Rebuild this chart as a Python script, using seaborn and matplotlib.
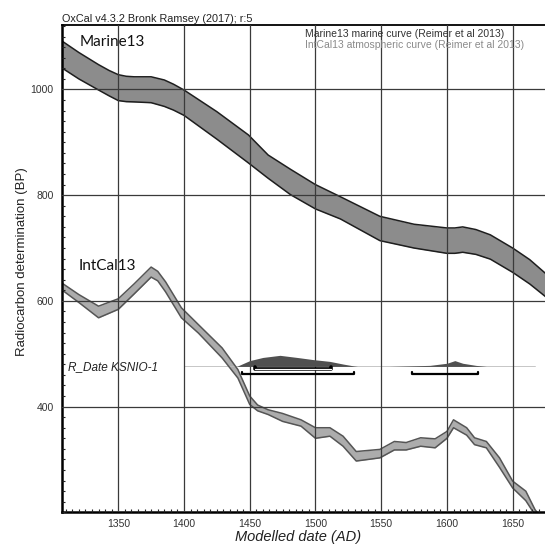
import matplotlib
matplotlib.use("Agg")
import matplotlib.pyplot as plt
from matplotlib.ticker import MultipleLocator
import seaborn as sns

# Marine13 band (year AD, upper / lower BP)
marine_years = [1307, 1320, 1335, 1343, 1350, 1356, 1362, 1375, 1385, 1392, 1400, 1425, 1449,
                1464, 1481, 1500, 1519, 1549, 1575, 1600, 1606, 1612, 1622, 1633, 1650,
                1663, 1675, 1690]
marine_top = [1092, 1070, 1047, 1036, 1028, 1025, 1024, 1024, 1018, 1010, 999, 958, 914,
              876, 849, 820, 797, 760, 745, 738, 738, 740, 735, 725, 700,
              678, 652, 615]
marine_bot = [1041, 1020, 999, 988, 979, 977, 976.5, 975, 968, 961, 951, 906, 861,
              832, 801, 774, 755, 714, 700, 690, 690, 692, 688, 679, 654,
              632, 608, 572]

# IntCal13 band
intcal_years = [1307, 1320, 1335, 1350, 1362, 1375, 1380, 1386, 1398, 1411, 1429, 1441,
                1450, 1456, 1464, 1475, 1489, 1500, 1511, 1521, 1531, 1549, 1560, 1569,
                1580, 1591, 1600, 1605, 1615, 1621, 1630, 1640, 1650, 1660, 1667, 1675]
intcal_top = [634, 612, 590, 604, 632, 664, 656, 636, 587, 555, 511, 470,
              420, 403, 394, 387, 375, 360, 360, 344, 315, 319, 334, 332,
              341, 339, 353, 375, 360, 341, 334, 303, 259, 240, 205, 180]
intcal_bot = [621, 597, 568, 584, 613, 645, 638, 617, 568, 539, 492, 454,
              404, 392, 385, 372, 363, 340, 344, 325, 297, 303, 318, 318,
              325, 322, 340, 360, 346, 328, 322, 285, 246, 222, 195, 168]

# R_Date KSNIO-1 probability distribution (height in BP units above baseline)
rdate_base = 476
dist1_years = [1440, 1450, 1460, 1473, 1486, 1498, 1511, 1521, 1529, 1532]
dist1_h = [0, 11, 17, 21, 17, 13, 9.5, 4.5, 1, 0]
dist2_years = [1556, 1587, 1600, 1606, 1612, 1622, 1630]
dist2_h = [0, 2, 6, 11, 6, 2, 0]
range68 = [(1454, 1512)]
range95 = [(1444, 1529), (1573.5, 1624)]

x_ticks = [1350, 1400, 1450, 1500, 1550, 1600, 1650]
y_ticks = [400, 600, 800, 1000]

sns.set_style("white")
plt.rcParams['font.family'] = ['Liberation Sans', 'DejaVu Sans']

fig = plt.figure(figsize=(5.45, 5.46), dpi=100)
ax = fig.add_axes([62 / 545, 33.7 / 546, 516.4 / 545, 487.3 / 546])

# bands
ax.fill_between(marine_years, marine_bot, marine_top, color='#8c8c8c', lw=0, zorder=1)
sns.lineplot(x=marine_years, y=marine_top, ax=ax, color='#1e1e1e', lw=1.1, zorder=1.5)
sns.lineplot(x=marine_years, y=marine_bot, ax=ax, color='#1e1e1e', lw=1.1, zorder=1.5)

ax.fill_between(intcal_years, intcal_bot, intcal_top, color='#acacac', lw=0, zorder=1)
sns.lineplot(x=intcal_years, y=intcal_top, ax=ax, color='#555555', lw=1.1, zorder=1.5)
sns.lineplot(x=intcal_years, y=intcal_bot, ax=ax, color='#555555', lw=1.1, zorder=1.5)

# R_Date
ax.plot([1400, 1667], [rdate_base, rdate_base], color='#bdbdbd', lw=0.6, zorder=1)
ax.fill_between(dist1_years, rdate_base, [rdate_base + h for h in dist1_h],
                color='#505050', lw=0, zorder=3)
ax.fill_between(dist2_years, rdate_base, [rdate_base + h for h in dist2_h],
                color='#505050', lw=0, zorder=3)
for a, b in range68:
    ax.plot([a, a, b, b], [475, 471, 471, 475], color='black', lw=2.6, zorder=3)
    ax.plot([a, b], [471, 471], color='white', lw=0.9, zorder=3.1)
for a, b in range95:
    ax.plot([a, a, b, b], [466, 462, 462, 466], color='black', lw=1.6, zorder=3)
ax.text(1311.5, 475.4, 'R_Date KSNIO-1', fontsize=8.5, style='italic',
        color='#222222', va='center', ha='left', zorder=2)

# curve labels
ax.text(1320.9, 1089.8, 'Marine13', fontsize=11, family='Lato', va='center',
        ha='left', color='#111111', zorder=2)
ax.text(1320.1, 665.4, 'IntCal13', fontsize=11, family='Lato', va='center',
        ha='left', color='#111111', zorder=2)

ax.set_xlim(1307.2, 1700)
ax.set_ylim(200, 1122)
ax.set_xticks(x_ticks)
ax.set_yticks(y_ticks)
ax.xaxis.set_minor_locator(MultipleLocator(5))
ax.yaxis.set_minor_locator(MultipleLocator(20))
ax.tick_params(which='both', bottom=True, left=True)
ax.tick_params(which='major', length=0, labelsize=7.5, labelcolor='#333333')
ax.tick_params(axis='x', which='major', pad=5)
ax.tick_params(axis='y', which='major', pad=6)
ax.tick_params(which='minor', direction='in', length=2.5, width=0.8, color='#222222')
ax.grid(True, which='major', color='#3a3a3a', lw=0.9)
ax.set_axisbelow(False)
for side in ['left', 'bottom']:
    ax.spines[side].set_linewidth(1.8)
    ax.spines[side].set_color('black')
ax.spines['top'].set_linewidth(1.3)
ax.spines['top'].set_color('black')
ax.set_xlabel('')
ax.set_ylabel('')

fig.text(62 / 545, 1 - 19 / 546, 'OxCal v4.3.2 Bronk Ramsey (2017); r:5',
         fontsize=7.8, va='center', ha='left', color='#222222')
fig.text(305 / 545, 1 - 34.3 / 546, 'Marine13 marine curve (Reimer et al 2013)',
         fontsize=7.5, va='center', ha='left', color='#333333')
fig.text(305 / 545, 1 - 45 / 546, 'IntCal13 atmospheric curve (Reimer et al 2013)',
         fontsize=7.5, va='center', ha='left', color='#8a8a8a')
fig.text(21.7 / 545, 1 - 261.7 / 546, 'Radiocarbon determination (BP)',
         fontsize=9.5, rotation=90, va='center', ha='center', color='#222222')
fig.text(298 / 545, 1 - 537 / 546, 'Modelled date (AD)', fontsize=10.5,
         style='italic', va='center', ha='center', color='#222222')

fig.savefig('out.png', dpi=100)
